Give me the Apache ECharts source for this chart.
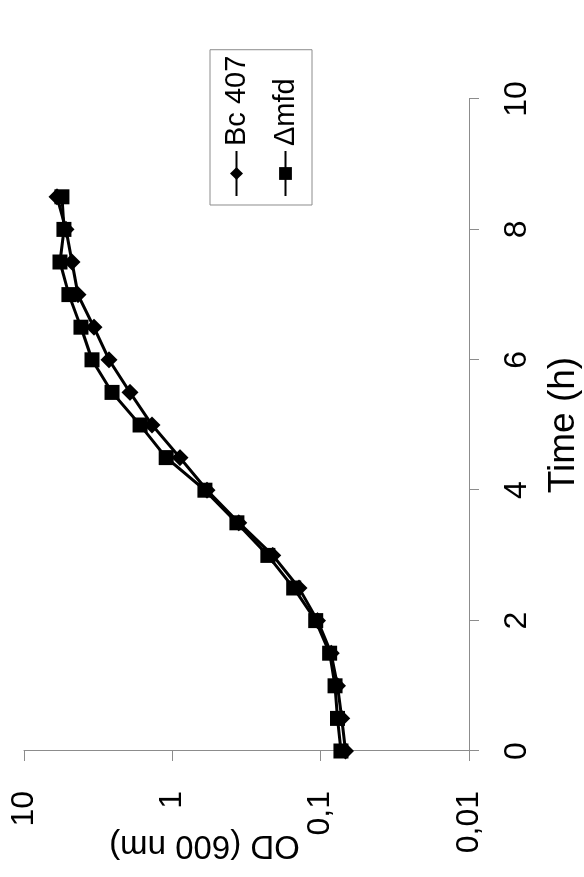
<!DOCTYPE html>
<html>
<head>
<meta charset="utf-8">
<script src="https://cdn.jsdelivr.net/npm/echarts@6/dist/echarts.min.js"></script>
<style>
  html, body { margin: 0; padding: 0; background: #fff; width: 584px; height: 877px; overflow: hidden; }
  #chart { position: absolute; left: 0; top: 0; width: 877px; height: 584px;
           transform-origin: 0 0; transform: translate(0, 877px) rotate(-90deg); }
</style>
</head>
<body>
<div id="chart"></div>
<script>
// Time points (h)
const timeHours = [0, 0.5, 1, 1.5, 2, 2.5, 3, 3.5, 4, 4.5, 5, 5.5, 6, 6.5, 7, 7.5, 8, 8.5];
// OD (600 nm) values
const bc407 = [0.068, 0.072, 0.077, 0.085, 0.105, 0.14, 0.21, 0.356, 0.584, 0.889, 1.37, 1.93, 2.67, 3.38, 4.33, 4.75, 5.21, 5.99];
const deltaMfd = [0.073, 0.077, 0.080, 0.087, 0.108, 0.152, 0.227, 0.367, 0.603, 1.10, 1.65, 2.55, 3.48, 4.13, 4.98, 5.72, 5.38, 5.55];
const seriesNames = ['Bc 407', '\u0394mfd'];
const odTickValues = [0.01, 0.1, 1, 10];
const odTickLabels = ['0,01', '0,1', '1', '10'];

const chart = echarts.init(document.getElementById('chart'), null, { width: 877, height: 584, renderer: 'canvas' });
const font = 'Liberation Sans, Arial, sans-serif';
const axisGray = '#8c8c8c';

function pairs(vals) { return timeHours.map((t, i) => [t, vals[i]]); }

chart.setOption({
  animation: false,
  backgroundColor: '#fff',
  textStyle: { fontFamily: font, color: '#000' },
  grid: { left: 126, right: 99, top: 24, bottom: 115, containLabel: false, outerBoundsMode: 'none' },
  xAxis: {
    type: 'value', min: 0, max: 10, interval: 2,
    name: 'Time (h)', nameLocation: 'middle', nameGap: 76, nameMoveOverlap: false,
    nameTextStyle: { fontSize: 37, fontFamily: font, color: '#000' },
    axisLine: { show: true, lineStyle: { color: axisGray, width: 1 } },
    axisTick: { show: true, inside: false, length: 10, lineStyle: { color: axisGray } },
    axisLabel: { fontSize: 32, fontFamily: font, color: '#000', margin: 32 },
    splitLine: { show: false }
  },
  yAxis: {
    type: 'log', logBase: 10, min: 0.01, max: 10,
    name: 'OD (600 nm)', nameLocation: 'middle', nameGap: 78, nameMoveOverlap: false,
    nameTextStyle: { fontSize: 33, fontFamily: font, color: '#000', padding: [0, 0, 0, 84] },
    axisLine: { show: true, onZero: false, lineStyle: { color: axisGray, width: 1 } },
    axisTick: { show: true, inside: false, length: 10, lineStyle: { color: axisGray } },
    axisLabel: {
      fontSize: 32, fontFamily: font, color: '#000', margin: 40,
      formatter: function (v) {
        let best = 0;
        odTickValues.forEach((tv, i) => { if (Math.abs(Math.log10(tv) - Math.log10(v)) < Math.abs(Math.log10(odTickValues[best]) - Math.log10(v))) best = i; });
        return odTickLabels[best];
      }
    },
    splitLine: { show: false }
  },
  legend: {
    orient: 'vertical', left: 672, top: 210,
    borderColor: axisGray, borderWidth: 1, borderRadius: 0,
    padding: [12, 6, 12, 8], itemGap: 20,
    itemWidth: 45, itemHeight: 16,
    textStyle: { fontSize: 29, fontFamily: font, color: '#000' },
    data: seriesNames
  },
  series: [
    {
      name: seriesNames[0], type: 'line', data: pairs(bc407),
      symbol: 'diamond', symbolSize: 17,
      lineStyle: { color: '#000', width: 3 },
      itemStyle: { color: '#000' }
    },
    {
      name: seriesNames[1], type: 'line', data: pairs(deltaMfd),
      symbol: 'rect', symbolSize: 15,
      lineStyle: { color: '#000', width: 3 },
      itemStyle: { color: '#000' }
    }
  ]
});
</script>
</body>
</html>
